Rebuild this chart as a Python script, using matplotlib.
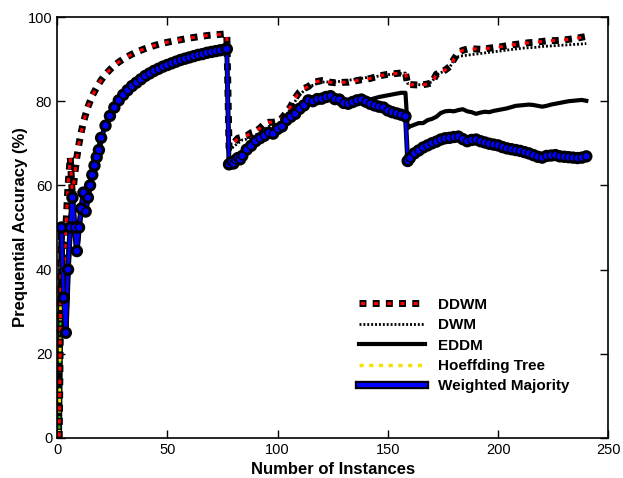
import matplotlib
matplotlib.use('Agg')
import matplotlib.pyplot as plt
import matplotlib.patheffects as pe
from matplotlib.lines import Line2D
from matplotlib.legend_handler import HandlerTuple

plt.rcParams['font.family'] = ['Liberation Sans', 'DejaVu Sans']

# ---- data ----
ddwm_x = [1, 2, 3, 4, 5, 6, 7, 8, 9, 10, 11, 12, 13, 14, 15, 16, 18, 20, 22, 24, 26, 28, 30, 33, 36, 40,
          44, 48, 52, 56, 60, 64, 68, 72, 77,
          78, 80, 82, 84, 86, 88, 90, 92, 94, 96, 98, 100, 102, 104, 106, 108, 110, 112, 114, 116, 118,
          120, 122, 124, 126, 128, 130, 132, 134, 136, 138, 140, 142, 144, 146, 148, 150, 152, 154, 156, 158,
          159, 162, 165, 168, 170, 172, 174, 176, 178, 180, 182, 184, 187, 190, 193, 196, 199, 202, 205,
          208, 211, 214, 217, 220, 223, 226, 229, 232, 235, 238, 240]
ddwm_acc = [0, 50, 33.3, 50, 60, 66.7, 57.1, 62.5, 66.7, 70, 72.7, 75, 76.9, 78.6, 80, 81.3, 83.3, 85, 86.4,
            87.5, 88.5, 89.3, 90, 90.9, 91.7, 92.5, 93.2, 93.8, 94.2, 94.6, 95.0, 95.3, 95.6, 95.8, 96.0,
            69.0, 70.0, 71.2, 71.5, 71.8, 72.5, 72.8, 73.6, 74.6, 75.0, 75.0, 75.2, 76.0, 77.3, 78.8, 80.8,
            82.2, 83.0, 83.5, 84.4, 84.7, 84.9, 84.8, 84.5, 84.4, 84.4, 84.5, 84.5, 84.7, 84.9, 85.1, 85.2,
            85.4, 85.7, 86.0, 86.2, 86.4, 86.5, 86.6, 86.7, 86.8,
            84.0, 83.9, 83.8, 84.1, 84.4, 86.4, 86.9, 87.4, 88.2, 90.0, 91.6, 92.1, 92.5, 92.4, 92.3, 92.6,
            92.8, 93.0, 93.3, 93.5, 93.7, 93.9, 94.0, 94.2, 94.4, 94.4, 94.5, 94.7, 94.9, 95.2, 95.4]

dwm_x = [78, 80, 82, 84, 86, 88, 90, 92, 94, 96, 98, 100, 102, 104, 106, 108, 110, 112, 114, 116, 118,
         120, 122, 124, 126, 128, 130, 132, 134, 136, 138, 140, 142, 144, 146, 148, 150, 152, 154, 156, 158,
         159, 162, 165, 168, 170, 172, 174, 176, 178, 180, 182, 184, 187, 190, 193, 196, 199, 202, 205,
         208, 211, 214, 217, 220, 223, 226, 229, 232, 235, 238, 240]
dwm_acc = [68.0, 69.2, 70.0, 70.8, 71.0, 71.5, 72.0, 72.3, 73.2, 74.0, 73.8, 74.4, 75.6, 76.8, 78.2, 80.0,
           81.5, 82.5, 83.2, 83.8, 84.2, 84.5, 84.6, 84.5, 84.6, 84.7, 84.9, 85.0, 85.1, 85.3, 85.4, 85.6,
           85.7, 85.8, 86.0, 86.1, 86.3, 86.4, 86.5, 86.6, 86.7,
           84.2, 84.0, 83.9, 84.2, 84.6, 86.2, 86.8, 87.2, 88.0, 89.8, 90.6, 90.8, 91.0, 91.2, 91.4, 91.6,
           91.8, 92.0, 92.2, 92.4, 92.6, 92.7, 92.8, 93.0, 93.1, 93.2, 93.3, 93.4, 93.5, 93.6, 93.7]

wm_x = [2, 3, 4, 5, 6, 7, 8, 9, 10, 11, 12, 13, 14, 15, 16, 17, 18, 19, 20, 22, 24, 26, 28, 30, 32, 34,
        36, 38, 40, 42, 44, 46, 48, 50, 52, 54, 56, 58, 60, 62, 64, 66, 68, 70, 72, 74, 76, 77,
        78, 79, 80, 81, 82, 83, 84, 86, 88, 90, 92, 94, 96, 98, 100, 102, 104, 106, 108, 110, 112, 114,
        116, 118, 120, 122, 124, 126, 128, 130, 132, 134, 136, 138, 140, 142, 144, 146, 148, 150, 152,
        154, 156, 158,
        159, 160, 162, 164, 166, 168, 170, 172, 174, 176, 178, 180, 182, 184, 186, 188, 190, 192, 194,
        196, 198, 200, 202, 204, 206, 208, 210, 212, 214, 216, 218, 220, 222, 224, 226, 228, 230, 232,
        234, 236, 238, 240]
wm_acc = [50, 33.3, 25, 40, 50, 57.1, 50, 44.4, 50, 54.5, 58.3, 53.8, 57.1, 60, 62.5, 64.7, 66.7, 68.4,
          71.3, 74.2, 76.5, 78.5, 80.2, 81.5, 82.6, 83.6, 84.4, 85.2, 86.0, 86.6, 87.2, 87.7, 88.2, 88.6,
          89.0, 89.4, 89.8, 90.1, 90.4, 90.7, 91.0, 91.2, 91.5, 91.7, 91.9, 92.1, 92.3, 92.4,
          65.0, 65.5, 65.2, 66.0, 66.5, 66.2, 67.0, 68.5, 69.4, 70.5, 71.2, 71.8, 72.5, 72.3, 73.4, 74.0,
          75.5, 76.3, 77.0, 78.2, 79.0, 80.2, 80.0, 80.5, 80.6, 81.0, 81.2, 80.5, 80.4, 79.6, 79.4, 79.8,
          80.2, 80.4, 79.9, 79.4, 79.0, 78.7, 78.5, 77.8, 77.4, 77.1, 76.8, 76.4,
          65.8, 66.5, 67.6, 68.3, 69.0, 69.5, 70.0, 70.4, 70.9, 71.2, 71.3, 71.5, 71.6, 71.0, 70.5, 70.8,
          70.9, 70.5, 70.2, 69.9, 69.7, 69.5, 69.1, 68.8, 68.6, 68.4, 68.2, 67.9, 67.6, 67.2, 66.8, 66.6,
          67.0, 67.1, 67.2, 66.9, 66.8, 66.7, 66.6, 66.5, 66.6, 66.9]

# Hoeffding Tree: visible only at the start, then hidden under Weighted Majority
ht_x = [1, 2, 3, 4, 5, 6, 7, 8, 9, 10, 11, 12, 13, 14, 15, 16, 17, 18, 19, 20]
ht_acc = [0, 50, 33.3, 25, 40, 50, 57.1, 50, 44.4, 50, 54.5, 58.3, 53.8, 57.1, 60, 62.5, 64.7, 66.7, 68.4,
          71.3]

# EDDM runs under Weighted Majority up to ~138, then separates
eddm_x = [138, 140, 142, 144, 146, 148, 150, 152, 154, 156, 158,
          159, 160, 162, 164, 166, 168, 170, 172, 174, 176, 178, 180, 182, 184, 186, 188, 190, 192, 194,
          196, 198, 200, 202, 204, 206, 208, 210, 212, 214, 216, 218, 220, 222, 224, 226, 228, 230, 232,
          234, 236, 238, 240]
eddm_acc = [80.4, 80.0, 80.4, 80.7, 81.0, 81.2, 81.4, 81.6, 81.8, 82.0, 82.0,
            73.6, 74.0, 74.4, 74.8, 74.8, 75.5, 75.8, 76.3, 77.2, 77.6, 77.7, 77.6, 77.9, 78.1, 77.6, 77.4,
            77.0, 77.3, 77.5, 77.4, 77.7, 77.9, 78.1, 78.3, 78.6, 78.9, 79.0, 79.1, 79.2, 79.1, 78.9, 78.7,
            78.9, 79.2, 79.4, 79.6, 79.8, 80.0, 80.1, 80.2, 80.3, 80.1]

fig = plt.figure(figsize=(6.23, 4.78), dpi=100)
ax = fig.add_axes([0.0915, 0.0837, 0.885, 0.8807])

# Hoeffding tree
ht_black, = ax.plot(ht_x, ht_acc, color='black', lw=4, solid_capstyle='butt')
ht_green, = ax.plot(ht_x, ht_acc, color='#22cc22', lw=1.5, linestyle=(0, (1.5, 3)), dash_capstyle='butt')
ht_yellow, = ax.plot(ht_x, ht_acc, color='#f5e000', lw=2.0, linestyle=(2, (1.2, 2.5)))

# EDDM (hidden under Weighted Majority until ~138)
wm_cut = wm_x.index(138)
eddm_line, = ax.plot(wm_x[:wm_cut] + eddm_x, wm_acc[:wm_cut] + eddm_acc, color='black', lw=3)

# DWM (hidden under Weighted Majority before the first drift)
wm_drift = wm_x.index(78)
dwm_line, = ax.plot(wm_x[:wm_drift] + dwm_x, wm_acc[:wm_drift] + dwm_acc, color='black', lw=2.0,
                    linestyle=(0, (0.7, 0.7)))

# DDWM: thick black dashes with red centres
dd_black, = ax.plot(ddwm_x, ddwm_acc, color='black', lw=5, linestyle=(0, (1.0, 0.9)), dash_capstyle='butt')
dd_red, = ax.plot(ddwm_x, ddwm_acc, color='red', lw=2.2, linestyle=(3.86, (1.36, 2.95)),
                  dash_capstyle='butt')

# Weighted Majority
wm_line, = ax.plot(wm_x, wm_acc, color='blue', lw=2, marker='o', ms=5.4, mfc='blue', mec='black',
                   mew=1.0, path_effects=[pe.Stroke(linewidth=3.5, foreground='black'), pe.Normal()])

ax.set_xlim(0, 250)
ax.set_ylim(0, 100)
ax.set_xticks([0, 50, 100, 150, 200, 250])
ax.set_yticks([0, 20, 40, 60, 80, 100])
ax.tick_params(direction='in', top=True, right=True, length=6, labelsize=10.5, width=1)
for s in ax.spines.values():
    s.set_linewidth(1.2)

ax.set_xlabel('Number of Instances', fontsize=12, fontweight='bold', labelpad=4)
ax.set_ylabel('Prequential Accuracy (%)', fontsize=12, fontweight='bold', labelpad=0)

ht_leg = Line2D([], [], color='#f5e000', lw=2.5, linestyle=(0, (1.2, 1.6)))
wm_leg = Line2D([], [], color='blue', lw=3,
                path_effects=[pe.Stroke(linewidth=6, foreground='black'), pe.Normal()])
handles = [(dd_black, dd_red), dwm_line, eddm_line, ht_leg, wm_leg]
labels = ['DDWM', 'DWM', 'EDDM', 'Hoeffding Tree', 'Weighted Majority']
leg = fig.legend(handles, labels, loc='upper left', bbox_to_anchor=(0.564, 0.393), frameon=False,
                 handlelength=4.3, handletextpad=0.9, labelspacing=0.42, borderpad=0,
                 handler_map={tuple: HandlerTuple(ndivide=1)},
                 prop={'weight': 'bold', 'size': 11})

fig.savefig('out.png', dpi=100)
